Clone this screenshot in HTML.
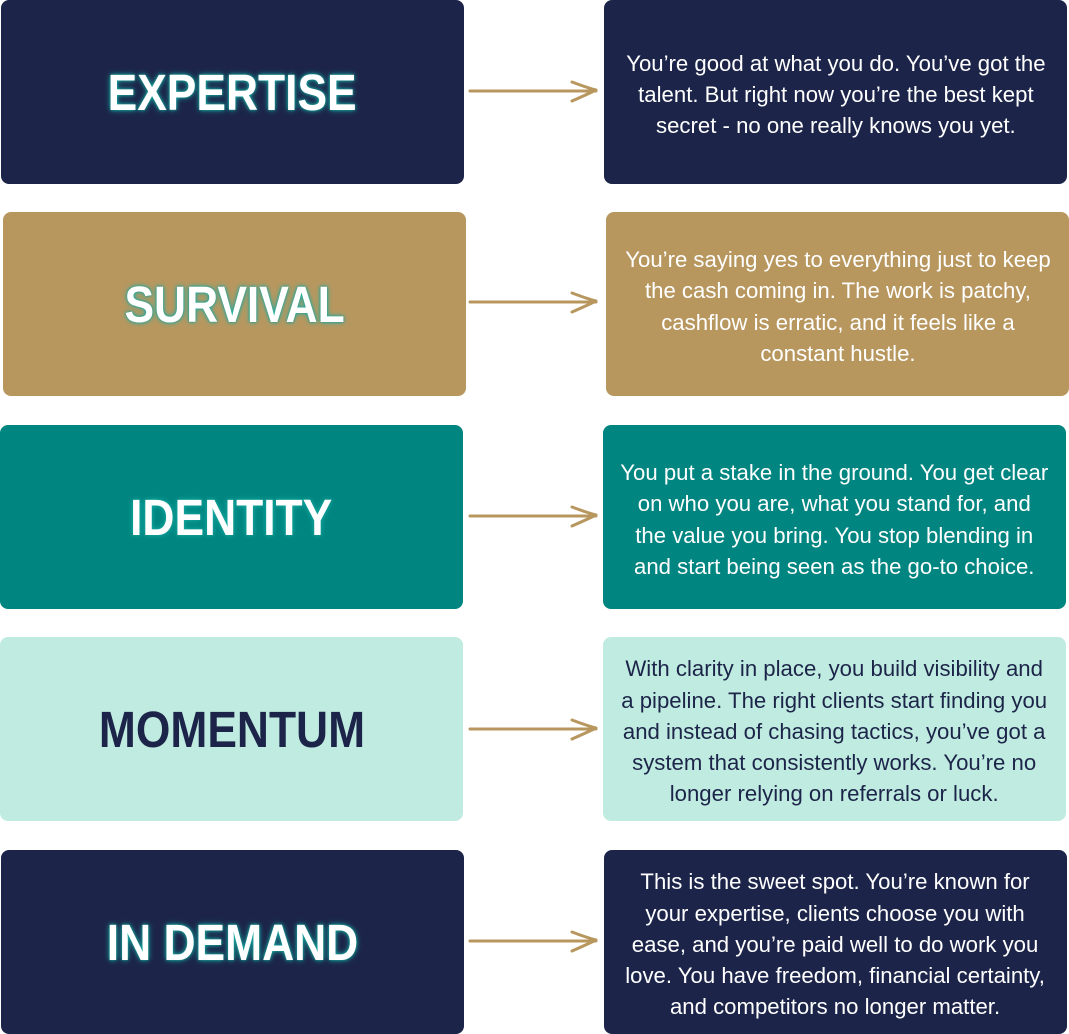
<!DOCTYPE html>
<html><head><meta charset="utf-8"><style>
body{margin:0;width:1069px;height:1034px;background:#fff;position:relative;overflow:hidden;font-family:"Liberation Sans",sans-serif}
.b{position:absolute;width:463px;height:184px;border-radius:8px;display:flex;align-items:center;justify-content:center;flex-direction:column}
.h{font-weight:bold;font-size:51px;color:#fff;text-shadow:0 0 6px #19b3aa,0 0 3px #0d8c86;transform:scaleX(0.87);white-space:nowrap}
.t{font-size:22.5px;line-height:31.3px;color:#fff;text-align:center;white-space:nowrap;padding-top:5px;transform:scaleX(0.985)}
.n{background:#1c2549}.g{background:#b8975f}.c{background:#008580}.m{background:#c0ebe0}
svg{position:absolute}
</style></head><body>
<div class="b n" style="left:1px;top:0"><div class="h">EXPERTISE</div></div>
<div class="b n" style="left:604px;top:0"><div class="t">You’re good at what you do. You’ve got the<br>talent. But right now you’re the best kept<br>secret - no one really knows you yet.</div></div>
<div class="b g" style="left:3px;top:212px"><div class="h">SURVIVAL</div></div>
<div class="b g" style="left:606px;top:212px"><div class="t">You’re saying yes to everything just to keep<br>the cash coming in. The work is patchy,<br>cashflow is erratic, and it feels like a<br>constant hustle.</div></div>
<div class="b c" style="left:0;top:425px"><div class="h">IDENTITY</div></div>
<div class="b c" style="left:603px;top:425px"><div class="t">You put a stake in the ground. You get clear<br>on who you are, what you stand for, and<br>the value you bring. You stop blending in<br>and start being seen as the go-to choice.</div></div>
<div class="b m" style="left:0;top:637px"><div class="h" style="color:#1c2549;text-shadow:none">MOMENTUM</div></div>
<div class="b m" style="left:603px;top:637px"><div class="t" style="color:#1c2549">With clarity in place, you build visibility and<br>a pipeline. The right clients start finding you<br>and instead of chasing tactics, you’ve got a<br>system that consistently works. You’re no<br>longer relying on referrals or luck.</div></div>
<div class="b n" style="left:1px;top:850px"><div class="h">IN DEMAND</div></div>
<div class="b n" style="left:604px;top:850px"><div class="t">This is the sweet spot. You’re known for<br>your expertise, clients choose you with<br>ease, and you’re paid well to do work you<br>love. You have freedom, financial certainty,<br>and competitors no longer matter.</div></div>
<svg width="1069" height="1034" style="left:0;top:0">
<g fill="none" stroke="#b8975f" stroke-width="3" stroke-linecap="round" stroke-linejoin="round">
<path d="M470 91H596M572 82Q588 88 596 90Q588 94 572 101"/>
<path d="M470 302H596M572 293Q588 299 596 301Q588 305 572 312"/>
<path d="M470 516H596M572 507Q588 513 596 515Q588 519 572 526"/>
<path d="M470 729H596M572 720Q588 726 596 728Q588 732 572 739"/>
<path d="M470 941H596M572 932Q588 938 596 940Q588 944 572 951"/>
</g></svg>
</body></html>
